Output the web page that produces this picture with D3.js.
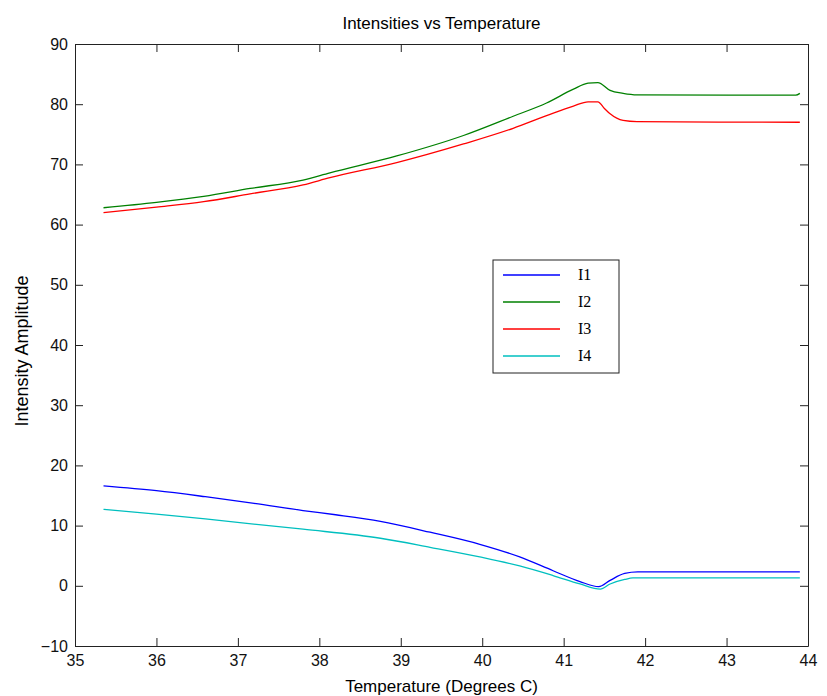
<!DOCTYPE html>
<html>
<head>
<meta charset="utf-8">
<script src="https://cdn.jsdelivr.net/npm/d3@7"></script>
<style>
  body { margin: 0; background: #fff; }
  svg { font-family: "Liberation Sans", Arial, sans-serif; }
</style>
</head>
<body>
<svg width="827" height="696"></svg>
<script>
// values
var seriesNames = ["I1", "I2", "I3", "I4"];
var seriesColors = ["#0000ff", "#008000", "#ff0000", "#00bfbf"];

var tempI1 = [35.35, 36.0, 36.6, 37.2, 37.8, 38.2, 38.75, 39.36, 39.97, 40.46, 40.87, 41.2, 41.43, 41.57, 41.75, 41.91, 43.9];
var valI1  = [16.6, 15.8, 14.8, 13.7, 12.5, 11.8, 10.7, 8.9, 6.9, 4.8, 2.5, 0.7, -0.15, 0.9, 2.05, 2.3, 2.3];

var tempI2 = [35.35, 36.0, 36.58, 37.15, 37.8, 38.13, 38.95, 39.77, 40.38, 40.79, 41.12, 41.3, 41.42, 41.57, 41.73, 41.9, 43.85, 43.9];
var valI2  = [62.8, 63.7, 64.7, 66.0, 67.4, 68.6, 71.4, 74.8, 78.0, 80.2, 82.5, 83.5, 83.6, 82.3, 81.8, 81.55, 81.5, 81.8];

var tempI3 = [35.35, 36.0, 36.58, 37.15, 37.8, 38.13, 38.95, 39.77, 40.38, 40.79, 41.12, 41.3, 41.42, 41.5, 41.57, 41.73, 41.9, 43.9];
var valI3  = [62.0, 62.9, 63.8, 65.1, 66.6, 67.8, 70.3, 73.4, 76.0, 78.1, 79.7, 80.4, 80.4, 79.3, 78.4, 77.3, 77.1, 77.0];

var tempI4 = [35.35, 36.0, 36.6, 37.8, 38.75, 39.36, 39.97, 40.46, 40.87, 41.2, 41.45, 41.57, 41.75, 41.85, 43.9];
var valI4  = [12.7, 11.9, 11.1, 9.4, 7.9, 6.4, 4.8, 3.3, 1.7, 0.3, -0.55, 0.3, 1.05, 1.3, 1.3];

var xTicks = [35, 36, 37, 38, 39, 40, 41, 42, 43, 44];
var yTicks = [-10, 0, 10, 20, 30, 40, 50, 60, 70, 80, 90];

var svg = d3.select("svg");
var margin = { top: 44, right: 19, bottom: 50, left: 75 };
var width = 827 - margin.left - margin.right;
var height = 696 - margin.top - margin.bottom;
var g = svg.append("g").attr("transform", "translate(" + margin.left + "," + margin.top + ")");

var x = d3.scaleLinear().domain([35, 44]).range([0, width]);
var y = d3.scaleLinear().domain([-10, 90]).range([height, 0]);

var series = [
    { name: seriesNames[0], color: seriesColors[0], data: d3.zip(tempI1, valI1) },
    { name: seriesNames[1], color: seriesColors[1], data: d3.zip(tempI2, valI2) },
    { name: seriesNames[2], color: seriesColors[2], data: d3.zip(tempI3, valI3) },
    { name: seriesNames[3], color: seriesColors[3], data: d3.zip(tempI4, valI4) }
];

var line = d3.line()
    .x(function (d) { return x(d[0]); })
    .y(function (d) { return y(d[1]); })
    .curve(d3.curveMonotoneX);

// lines
g.selectAll(".series")
    .data(series)
    .enter().append("path")
    .attr("fill", "none")
    .attr("stroke", function (d) { return d.color; })
    .attr("stroke-width", 1.3)
    .attr("d", function (d) { return line(d.data); });

// box axes, ticks pointing inward
function styleAxis(sel) {
    sel.selectAll("path, line").attr("stroke", "#222");
    sel.selectAll("text").attr("fill", "#111")
        .style("font-size", "16px")
        .style("font-family", "'Liberation Sans', Arial, sans-serif");
}

g.append("g")
    .attr("transform", "translate(0," + height + ")")
    .call(d3.axisBottom(x).tickValues(xTicks).tickSizeInner(-8).tickSizeOuter(0).tickPadding(9))
    .call(styleAxis);

g.append("g")
    .call(d3.axisTop(x).tickValues(xTicks).tickSizeInner(-8).tickSizeOuter(0).tickFormat(""))
    .call(styleAxis);

g.append("g")
    .call(d3.axisLeft(y).tickValues(yTicks).tickSizeInner(-8).tickSizeOuter(0).tickPadding(7))
    .call(styleAxis);

g.append("g")
    .attr("transform", "translate(" + width + ",0)")
    .call(d3.axisRight(y).tickValues(yTicks).tickSizeInner(-8).tickSizeOuter(0).tickFormat(""))
    .call(styleAxis);

// title and axis labels
svg.append("text")
    .attr("x", margin.left + width / 2)
    .attr("y", 29)
    .attr("text-anchor", "middle")
    .style("font-size", "17px")
    .text("Intensities vs Temperature");

svg.append("text")
    .attr("x", margin.left + width / 2)
    .attr("y", 692)
    .attr("text-anchor", "middle")
    .style("font-size", "17px")
    .text("Temperature (Degrees C)");

svg.append("text")
    .attr("transform", "translate(28," + (margin.top + height / 2 + 6) + ") rotate(-90)")
    .attr("text-anchor", "middle")
    .style("font-size", "18px")
    .text("Intensity Amplitude");

// legend
var legend = svg.append("g").attr("transform", "translate(493,260)");
legend.append("rect")
    .attr("width", 126).attr("height", 113)
    .attr("fill", "#fff").attr("stroke", "#222");

var rows = legend.selectAll(".row")
    .data(series)
    .enter().append("g")
    .attr("transform", function (d, i) { return "translate(0," + (15 + i * 27) + ")"; });

rows.append("line")
    .attr("x1", 10).attr("x2", 67)
    .attr("stroke", function (d) { return d.color; })
    .attr("stroke-width", 1.3);

rows.append("text")
    .attr("x", 85).attr("y", 5)
    .style("font-family", "'Liberation Serif', 'Times New Roman', serif")
    .style("font-size", "16px")
    .text(function (d) { return d.name; });
</script>
</body>
</html>
